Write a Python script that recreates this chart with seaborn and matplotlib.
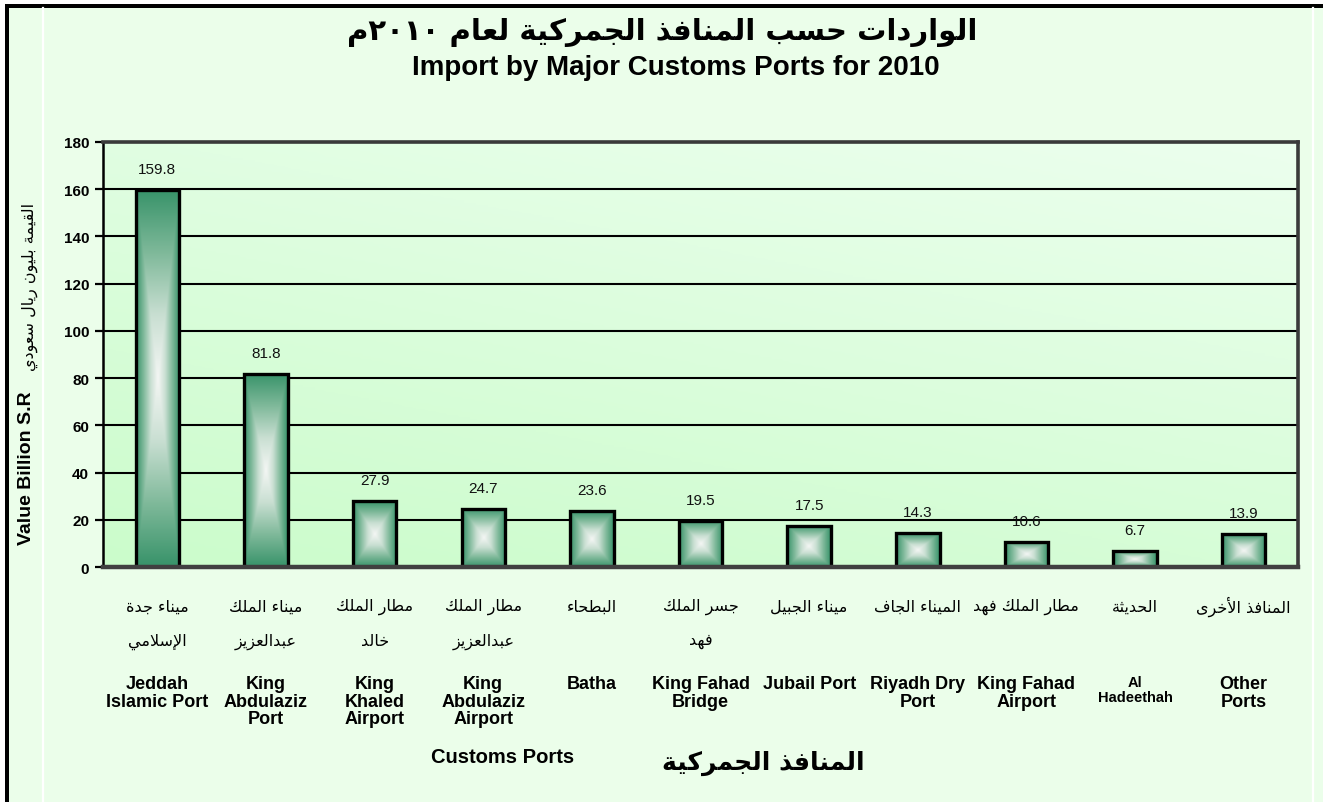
import re

import matplotlib.pyplot as plt
import numpy as np
import pandas as pd
import seaborn as sns
from matplotlib.colors import LinearSegmentedColormap
from matplotlib.lines import Line2D
from matplotlib.patches import Rectangle

# data
ports_en = ["Jeddah\nIslamic Port", "King\nAbdulaziz\nPort", "King\nKhaled\nAirport",
            "King\nAbdulaziz\nAirport", "Batha", "King Fahad\nBridge", "Jubail Port",
            "Riyadh Dry\nPort", "King Fahad\nAirport", "Al\nHadeethah", "Other\nPorts"]
ports_ar = ["ميناء جدة\nالإسلامي", "ميناء الملك\nعبدالعزيز", "مطار الملك\nخالد",
            "مطار الملك\nعبدالعزيز", "البطحاء", "جسر الملك\nفهد", "ميناء الجبيل",
            "الميناء الجاف", "مطار الملك فهد", "الحديثة", "المنافذ الأخرى"]
values = [159.8, 81.8, 27.9, 24.7, 23.6, 19.5, 17.5, 14.3, 10.6, 6.7, 13.9]
y_ticks = [0, 20, 40, 60, 80, 100, 120, 140, 160, 180]

title_ar = "الواردات حسب المنافذ الجمركية لعام ٢٠١٠م"
title_en = "Import by Major Customs Ports for 2010"
ylabel_en = "Value Billion S.R"
ylabel_ar = "القيمة بليون ريال سعودي"
xlabel_en = "Customs Ports"
xlabel_ar = "المنافذ الجمركية"


# minimal arabic shaping: presentation forms + visual order (no reshaper lib here)
DUAL = {'ب': 0xFE8F, 'ت': 0xFE95, 'ث': 0xFE99, 'ج': 0xFE9D, 'ح': 0xFEA1, 'خ': 0xFEA5,
        'س': 0xFEB1, 'ش': 0xFEB5, 'ص': 0xFEB9, 'ض': 0xFEBD, 'ط': 0xFEC1, 'ظ': 0xFEC5,
        'ع': 0xFEC9, 'غ': 0xFECD, 'ف': 0xFED1, 'ق': 0xFED5, 'ك': 0xFED9, 'ل': 0xFEDD,
        'م': 0xFEE1, 'ن': 0xFEE5, 'ه': 0xFEE9, 'ي': 0xFEF1, 'ئ': 0xFE89}
RIGHT = {'آ': 0xFE81, 'أ': 0xFE83, 'ؤ': 0xFE85, 'إ': 0xFE87, 'ا': 0xFE8D, 'ة': 0xFE93,
         'د': 0xFEA9, 'ذ': 0xFEAB, 'ر': 0xFEAD, 'ز': 0xFEAF, 'و': 0xFEED, 'ى': 0xFEEF}
LAMALEF = {'آ': 0xFEF5, 'أ': 0xFEF7, 'إ': 0xFEF9, 'ا': 0xFEFB}


def shape_line(s):
    out = []
    i = 0
    while i < len(s):
        c = s[i]
        prev_conn = i > 0 and s[i - 1] in DUAL
        if c == 'ل' and i + 1 < len(s) and s[i + 1] in LAMALEF:
            out.append(chr(LAMALEF[s[i + 1]] + (1 if prev_conn else 0)))
            i += 2
            continue
        next_conn = i + 1 < len(s) and (s[i + 1] in DUAL or s[i + 1] in RIGHT)
        if c in DUAL:
            base = DUAL[c]
            if prev_conn and next_conn:
                out.append(chr(base + 3))
            elif prev_conn:
                out.append(chr(base + 1))
            elif next_conn:
                out.append(chr(base + 2))
            else:
                out.append(chr(base))
        elif c in RIGHT:
            out.append(chr(RIGHT[c] + (1 if prev_conn else 0)))
        elif c == 'ء':
            out.append('\uFE80')
        else:
            out.append(c)
        i += 1
    vis = ''.join(out)[::-1]
    return re.sub(r'[0-9\u0660-\u0669.]+', lambda m: m.group(0)[::-1], vis)


def ar(s):
    return '\n'.join(shape_line(line) for line in s.split('\n'))


W, H = 1323, 803


def fx(x):
    return x / W


def fy(y):
    return 1 - y / H


plt.rcParams['font.family'] = ['Liberation Sans', 'DejaVu Sans']
AR_FONT = ['DejaVu Sans']

fig = plt.figure(figsize=(W / 100, H / 100), dpi=100, facecolor='white')

# page background + frame
fig.add_artist(Rectangle((fx(5), 0), 1, fy(5), transform=fig.transFigure,
                         facecolor='#ebfeea', edgecolor='none', zorder=-10))
fig.add_artist(Rectangle((fx(5), fy(9)), 1, 4 / H, transform=fig.transFigure,
                         facecolor='black', edgecolor='none', zorder=-5))
fig.add_artist(Rectangle((fx(5), 0), 4 / W, fy(5), transform=fig.transFigure,
                         facecolor='black', edgecolor='none', zorder=-5))
for xv in (43.5, 1312.5):
    fig.add_artist(Line2D([fx(xv), fx(xv)], [0, fy(9)], transform=fig.transFigure,
                          color='white', lw=1.6, zorder=-4))

ax = fig.add_axes([fx(103), fy(568), fx(1298) - fx(103), (568 - 143) / H])

df = pd.DataFrame({'port': ports_en, 'value': values})
sns.barplot(data=df, x='port', y='value', width=0.4, color='#3d9970', ax=ax, zorder=3)

ax.set_xlim(-0.5, len(values) - 0.5)
ax.set_ylim(0, 180)

# plot area gradient
gx, gy = np.meshgrid(np.linspace(0, 1, 200), np.linspace(0, 1, 200))
bg = 0.35 * gx + 0.65 * gy
bg_cmap = LinearSegmentedColormap.from_list('bg', ['#cbfccb', '#ecffee'])
ax.imshow(bg, origin='lower', extent=(0, 1, 0, 1), transform=ax.transAxes,
          cmap=bg_cmap, aspect='auto', zorder=0)

# bars: rectangular "from centre" gradient
bar_cmap = LinearSegmentedColormap.from_list('bar', ['#f4f6f4', '#c9dfd2', '#7fb99a', '#38936a'])
for p in ax.patches:
    x0, w, h = p.get_x(), p.get_width(), p.get_height()
    u, v = np.meshgrid(np.linspace(-1, 1, 60), np.linspace(-1, 1, 200))
    t = np.maximum(np.abs(u), np.abs(v))
    ax.imshow(t, origin='lower', extent=(x0, x0 + w, 0, h), cmap=bar_cmap,
              vmin=0, vmax=1, aspect='auto', zorder=3, interpolation='bilinear')
    p.set_facecolor('none')
    p.set_edgecolor('black')
    p.set_linewidth(2.4)
    p.set_zorder(4)
    ax.annotate(f"{h:.1f}", (x0 + w / 2, h), xytext=(0, 15), textcoords='offset points',
                ha='center', va='center', fontsize=11, color='#111111', zorder=6)

ax.set_aspect('auto')
ax.set_xlim(-0.5, len(values) - 0.5)
ax.set_ylim(0, 180)

ax.set_yticks(y_ticks)
ax.set_yticklabels([str(t) for t in y_ticks], fontsize=11, fontweight='bold')
ax.set_xticks(range(len(values)))
ax.set_xticklabels([])
ax.tick_params(axis='x', length=0)
ax.tick_params(axis='y', length=6, width=1.6, pad=4, color='black')
ax.yaxis.grid(True, color='black', lw=1.5, zorder=1)
ax.set_axisbelow(True)
ax.set_xlabel('')
ax.set_ylabel('')

for side in ('top', 'right'):
    ax.spines[side].set_color('#3a3a3a')
    ax.spines[side].set_linewidth(2.6)
ax.spines['bottom'].set_color('#404040')
ax.spines['bottom'].set_linewidth(3.2)
ax.spines['left'].set_color('black')
ax.spines['left'].set_linewidth(1.8)
for s in ax.spines.values():
    s.set_zorder(5)

# category labels: arabic two rows, english below
for i, (en, a) in enumerate(zip(ports_en, ports_ar)):
    xc = 103 + (i + 0.5) * (1298 - 103) / len(values)
    for j, line in enumerate(a.split('\n')):
        fig.text(fx(xc), fy(607 + 35 * j), ar(line), ha='center', va='center',
                 fontsize=11.5, family=AR_FONT, color='black')
    fs = 10.5 if en.startswith('Al\n') else 13
    fig.text(fx(xc), fy(676), en, ha='center', va='top', fontsize=fs,
             fontweight='bold', linespacing=1.05, multialignment='center')

# titles
fig.text(fx(662), fy(32), ar(title_ar), ha='center', va='center', fontsize=21,
         fontweight='bold', family=AR_FONT)
fig.text(fx(676), fy(68), title_en, ha='center', va='center', fontsize=20, fontweight='bold')

# axis titles
fig.text(fx(27), fy(468), ylabel_en, rotation=90, ha='center', va='center',
         fontsize=14, fontweight='bold')
fig.text(fx(30), fy(287), ar(ylabel_ar), rotation=90, ha='center', va='center',
         fontsize=11.5, family=AR_FONT)
fig.text(fx(503), fy(758), xlabel_en, ha='center', va='center', fontsize=14.5, fontweight='bold')
fig.text(fx(763), fy(763), ar(xlabel_ar), ha='center', va='center', fontsize=18,
         fontweight='bold', family=AR_FONT)

fig.savefig('out.png', dpi=100, facecolor=fig.get_facecolor())
